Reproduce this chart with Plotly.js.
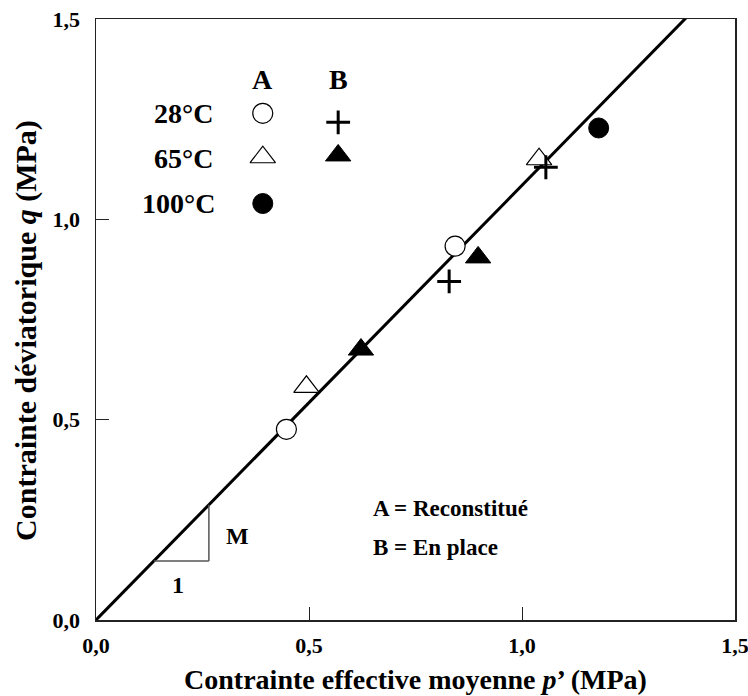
<!DOCTYPE html>
<html>
<head>
<meta charset="utf-8">
<script src="https://cdn.plot.ly/plotly-3.0.1.min.js"></script>
<style>html,body{margin:0;padding:0;background:#fff;}#chart{width:748px;height:696px;}</style>
</head>
<body>
<div id="chart"></div>
<script>
// ---- data (MPa) ----
const slopeM = 1.085;                 // critical state slope M
const lineP = [0, 1.5];

const A28_p = [0.447, 0.843];  const A28_q = [0.476, 0.933];   // Reconstitué 28°C (open circle)
const A65_p = [0.494, 1.040];  const A65_q = [0.582, 1.150];   // Reconstitué 65°C (open triangle)
const A100_p = [1.180];        const A100_q = [1.228];         // 100°C (filled circle)
const B28_p = [0.829, 1.056];  const B28_q = [0.845, 1.130];   // En place 28°C (plus)
const B65_p = [0.622, 0.897];  const B65_q = [0.675, 0.905];   // En place 65°C (filled triangle)

const tickVals = [0, 0.5, 1.0, 1.5];
const tickText = ['0,0', '0,5', '1,0', '1,5'];

const FONT = 'Liberation Serif, Times New Roman, serif';

const lineQ = lineP.map(p => slopeM * p);

const openCircle = {symbol: 'circle', size: 20, color: '#fff', line: {color: '#000', width: 1.2}};
const openTri = {symbol: 'triangle-up', size: 22, color: '#fff', line: {color: '#000', width: 1.2}};
const fullCircle = {symbol: 'circle', size: 20, color: '#000', line: {color: '#000', width: 1}};
const plusMk = {symbol: 'cross-thin', size: 17, color: '#000', line: {color: '#000', width: 3}};
const fullTri = {symbol: 'triangle-up', size: 22, color: '#000', line: {color: '#000', width: 1}};

const traces = [
  {x: lineP, y: lineQ, mode: 'lines', line: {color: '#000', width: 3}, hoverinfo: 'skip'},
  {x: A28_p, y: A28_q, mode: 'markers', marker: openCircle},
  {x: A65_p, y: A65_q, mode: 'markers', marker: openTri},
  {x: A100_p, y: A100_q, mode: 'markers', marker: fullCircle},
  {x: B28_p, y: B28_q, mode: 'markers', marker: plusMk},
  {x: B65_p, y: B65_q, mode: 'markers', marker: fullTri},
  // legend key (positions in the overlay paper-like axes)
  {x: [0.261], y: [0.843], xaxis: 'x2', yaxis: 'y2', mode: 'markers', marker: openCircle},
  {x: [0.261], y: [0.770], xaxis: 'x2', yaxis: 'y2', mode: 'markers', marker: openTri},
  {x: [0.261], y: [0.693], xaxis: 'x2', yaxis: 'y2', mode: 'markers', marker: fullCircle},
  {x: [0.379], y: [0.828], xaxis: 'x2', yaxis: 'y2', mode: 'markers', marker: plusMk},
  {x: [0.379], y: [0.773], xaxis: 'x2', yaxis: 'y2', mode: 'markers', marker: fullTri}
];

// slope triangle built from M
const tx0 = 0.136, tx1 = 0.265;
const ty0 = slopeM * tx0, ty1 = slopeM * tx1;

const ann = (x, y, text, size, xanchor) => ({
  x: x, y: y, xref: 'x2', yref: 'y2', text: text, showarrow: false,
  xanchor: xanchor || 'center', yanchor: 'middle',
  font: {family: FONT, size: size, color: '#000'}
});

const layout = {
  width: 748, height: 696,
  margin: {l: 96, r: 13, t: 19, b: 76},
  paper_bgcolor: '#fff', plot_bgcolor: '#fff',
  showlegend: false,
  font: {family: FONT, color: '#000'},
  xaxis: {
    range: [0, 1.5], tickvals: tickVals, ticktext: tickText.map(t => '<b>' + t + '</b>'),
    ticks: 'inside', ticklen: 13, tickwidth: 1, tickcolor: '#222',
    showline: true, linecolor: '#222', linewidth: 1.5, mirror: true,
    showgrid: false, zeroline: false, fixedrange: true,
    tickfont: {family: FONT, size: 22, color: '#000'},
    ticklabelstandoff: 5, ticklabeloverflow: 'allow',
    title: {text: '<b>Contrainte effective moyenne <i>p</i>’ (MPa)</b>', font: {family: FONT, size: 28, color: '#000'}, standoff: 12}
  },
  yaxis: {
    range: [0, 1.5], tickvals: tickVals, ticktext: tickText.map(t => '<b>' + t + '</b>'),
    ticks: 'inside', ticklen: 13, tickwidth: 1, tickcolor: '#222',
    showline: true, linecolor: '#222', linewidth: 1.5, mirror: true,
    showgrid: false, zeroline: false, fixedrange: true,
    tickfont: {family: FONT, size: 22, color: '#000'},
    ticklabelstandoff: 10, ticklabeloverflow: 'allow'
  },
  xaxis2: {range: [0, 1], overlaying: 'x', visible: false, fixedrange: true},
  yaxis2: {range: [0, 1], overlaying: 'y', visible: false, fixedrange: true},
  shapes: [
    {type: 'line', xref: 'x', yref: 'y', x0: tx0, y0: ty0, x1: tx1, y1: ty0, line: {color: '#555', width: 1.5}},
    {type: 'line', xref: 'x', yref: 'y', x0: tx1, y0: ty0, x1: tx1, y1: ty1, line: {color: '#555', width: 1.5}}
  ],
  annotations: [
    {x: -0.1095, y: 0.481, xref: 'paper', yref: 'paper', textangle: -90, showarrow: false,
     xanchor: 'center', yanchor: 'middle',
     text: '<b>Contrainte déviatorique <i>q</i> (MPa)</b>', font: {family: FONT, size: 30, color: '#000'}},
    ann(0.261, 0.899, '<b>A</b>', 28),
    ann(0.379, 0.899, '<b>B</b>', 28),
    ann(0.187, 0.843, '<b>28°C</b>', 28, 'right'),
    ann(0.187, 0.768, '<b>65°C</b>', 28, 'right'),
    ann(0.190, 0.693, '<b>100°C</b>', 28, 'right'),
    ann(0.431, 0.186, '<b>A = Reconstitué</b>', 23, 'left'),
    ann(0.431, 0.121, '<b>B = En place</b>', 23, 'left'),
    ann(0.222, 0.140, '<b>M</b>', 24),
    ann(0.128, 0.058, '<b>1</b>', 24)
  ]
};

Plotly.newPlot('chart', traces, layout, {displayModeBar: false, staticPlot: true});
</script>
</body>
</html>
